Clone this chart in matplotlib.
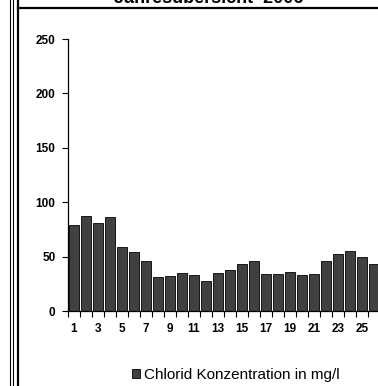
import matplotlib
matplotlib.use("Agg")
import matplotlib.pyplot as plt
from matplotlib.lines import Line2D
import numpy as np

plt.rcParams["font.family"] = ["Liberation Sans", "DejaVu Sans"]

# ── data ──────────────────────────────────────────────────────────────────────
days = list(range(1, 27))
chlorid = [79, 87, 81, 86.5, 59, 54.5, 46, 31.5, 32, 35, 33, 27.5, 35,
           37.5, 43, 46, 34, 34, 36, 33, 34, 46, 52.5, 55, 50, 43]
tick_labels = [str(d) for d in range(1, 26, 2)]

W, H = 378, 386
fig = plt.figure(figsize=(W / 100, H / 100), dpi=100)
fig.patch.set_facecolor("white")

# axes: left edge 68px, bottom 311px, top 39px, 12px per category
ax = fig.add_axes([68 / W, (H - 311) / H, 312 / W, 272 / H])
ax.bar(days, chlorid, width=0.8, color="#404040", edgecolor="black",
       linewidth=0.6, label="Chlorid Konzentration in mg/l")

ax.set_xlim(0.5, 26.5)
ax.set_ylim(0, 250)
ax.set_yticks(np.arange(0, 251, 50))
ax.set_xticks(range(1, 26, 2))
ax.set_xticklabels(tick_labels)
ax.set_xticks(np.arange(0.5, 26.6, 1), minor=True)
ax.tick_params(axis="x", which="major", length=0, pad=9)
ax.tick_params(axis="x", which="minor", length=4, width=0.8, direction="out")
ax.tick_params(axis="y", length=4, width=0.8, direction="out", pad=5)
for lbl in ax.get_xticklabels() + ax.get_yticklabels():
    lbl.set_fontsize(8.5)
    lbl.set_fontweight("bold")

for side in ("top", "right"):
    ax.spines[side].set_visible(False)
for side in ("left", "bottom"):
    ax.spines[side].set_linewidth(0.9)

ax.legend(loc="center", bbox_to_anchor=(236 / W, 1 - 375 / H),
          bbox_transform=fig.transFigure, frameon=False, fontsize=11,
          handlelength=0.55, handleheight=0.55, handletextpad=0.25,
          borderpad=0.2)

# frame lines around the chart (cropped worksheet)
def vline(x, lw):
    fig.add_artist(Line2D([x / W, x / W], [0, 1], color="black", lw=lw))

vline(9.5, 0.8)
vline(12.5, 0.8)
vline(18, 1.6)
fig.add_artist(Line2D([18 / W, 1], [1 - 8 / H, 1 - 8 / H], color="black", lw=1.6))

fig.text(209 / W, 1 - 3 / H, "Jahresübersicht  2006", ha="center", va="baseline",
         fontsize=13, fontweight="bold")

fig.savefig("out.png", dpi=100)
